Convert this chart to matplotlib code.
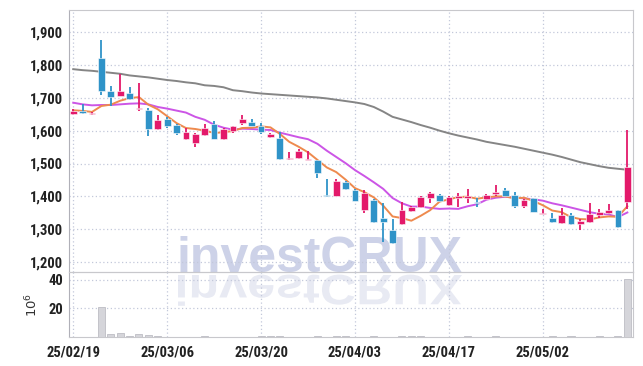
"""
Graphique chandelier + volume (style investCRUX)
"""

import matplotlib
matplotlib.use("Agg")
import matplotlib.pyplot as plt
from matplotlib.textpath import TextPath
from matplotlib.patches import PathPatch
from matplotlib.font_manager import FontProperties
from matplotlib.transforms import Affine2D, IdentityTransform
import numpy as np

# donnees
opens = [1652,1661,1650,1820,1720,1706,1715,1665,1663,1605,1635,1617,1574,1561,1587,1620,1576,1600,1622,1626,
         1615,1580,1577,1513,1516,1512,1510,1405,1402,1444,1419,1360,1389,1334,1297,1315,1356,1368,1394,1404,
         1374,1395,1395,1383,1391,1407,1419,1404,1371,1394,1347,1335,1318,1343,1315,1323,1343,1348,1358,1384]
highs = [1665,1680,1657,1875,1735,1772,1733,1745,1668,1648,1642,1620,1608,1593,1620,1628,1608,1615,1647,1636,
         1622,1592,1597,1536,1543,1538,1512,1452,1452,1448,1422,1419,1392,1380,1330,1384,1372,1402,1413,1408,
         1400,1409,1424,1394,1408,1434,1427,1414,1392,1396,1363,1348,1366,1348,1330,1381,1363,1378,1360,1602]
lows = [1648,1650,1648,1708,1675,1705,1693,1660,1585,1603,1608,1588,1572,1550,1585,1574,1573,1593,1618,1613,
        1590,1578,1512,1512,1514,1511,1455,1399,1400,1418,1385,1348,1318,1262,1256,1312,1352,1366,1380,1383,
        1372,1368,1380,1368,1389,1401,1400,1366,1365,1352,1345,1320,1316,1313,1297,1320,1333,1345,1305,1363]
closes = [1661,1655,1655,1720,1703,1720,1697,1670,1605,1632,1614,1593,1596,1590,1608,1576,1605,1614,1635,1615,
          1596,1589,1513,1517,1538,1515,1470,1400,1447,1421,1387,1409,1322,1321,1257,1360,1368,1397,1409,1385,
          1397,1402,1400,1380,1404,1413,1402,1372,1389,1353,1350,1323,1343,1315,1325,1345,1353,1358,1307,1488]
volumes = [0.3,0.2,0.1,21.1,1.8,3.0,0.7,2.3,1.1,0.5,0.3,0.2,0.3,0.1,0.4,0.3,0.3,0.3,0.2,0.3,
           0.4,0.6,0.4,0.3,0.3,0.2,0.4,0.2,0.8,0.4,0.3,0.3,0.5,0.3,0.3,1.0,0.6,0.4,0.3,0.3,
           0.3,0.3,0.4,0.3,0.2,0.4,0.3,0.3,0.2,0.3,0.2,0.4,0.3,0.5,0.2,0.3,0.4,0.3,0.5,41.0]
ma5 = [1662,1660,1657,1675,1679,1691,1699,1702,1679,1665,1644,1623,1608,1605,1600,1593,1595,1599,1608,1609,
       1613,1610,1590,1566,1551,1534,1511,1488,1474,1451,1425,1413,1397,1372,1339,1334,1326,1341,1358,1384,
       1391,1398,1399,1393,1397,1400,1400,1394,1396,1386,1373,1357,1352,1337,1331,1330,1336,1339,1338,1370]
ma10 = [1685,1680,1677,1678,1678,1680,1682,1683,1680,1672,1667,1661,1655,1642,1633,1618,1609,1603,1606,1605,
        1603,1602,1594,1587,1580,1574,1560,1539,1520,1501,1480,1462,1443,1423,1395,1379,1369,1369,1365,1362,
        1363,1362,1370,1376,1390,1396,1399,1396,1394,1391,1387,1379,1373,1366,1359,1352,1347,1345,1337,1351]
ma60 = [1787,1784,1782,1779,1776,1773,1768,1765,1762,1758,1754,1751,1747,1744,1738,1736,1732,1723,1720,1716,
        1713,1711,1709,1707,1705,1703,1701,1698,1694,1690,1686,1681,1672,1658,1642,1634,1626,1617,1609,1600,
        1592,1585,1579,1573,1566,1561,1556,1551,1545,1539,1533,1527,1520,1512,1504,1498,1492,1487,1484,1481]
date_labels = ['25/02/19', '25/03/06', '25/03/20', '25/04/03', '25/04/17', '25/05/02']
date_pos = [0, 10, 20, 30, 40, 50]
price_ticks = [1200, 1300, 1400, 1500, 1600, 1700, 1800, 1900]

up_col = '#e3196a'
down_col = '#2f93c8'
grid_col = '#c3c8da'
tick_font = ['Roboto Condensed', 'DejaVu Sans Condensed', 'Liberation Sans Narrow', 'Roboto']

x = np.arange(len(closes))

fig = plt.figure(figsize=(6.43, 3.66), dpi=100)
ax = fig.add_axes([69/643, 94/366, 564/643, 262/366])
axv = fig.add_axes([69/643, 29/366, 564/643, 65/366], sharex=ax)
for a in (ax, axv):
    a.set_facecolor('none')

#filigrane investCRUX + reflet
fig.text(177/643, 94/366, "investCRUX", fontsize=36, fontweight='bold', color='#cdd2e8',
         family=['Liberation Sans', 'DejaVu Sans'], ha='left', va='baseline', zorder=-1)
fp = FontProperties(family=['Liberation Sans', 'DejaVu Sans'], weight='bold')
tp = TextPath((0, 0), "investCRUX", size=50, prop=fp)
ext = tp.get_extents()
sx = 284 / ext.width
tr2 = Affine2D().translate(-ext.x0, 0).scale(sx, -0.85).translate(178, 366 - 275)
fig.add_artist(PathPatch(tr2.transform_path(tp), facecolor='#e8eaf3', edgecolor='none',
                         transform=IdentityTransform(), zorder=-1))

#moyennes mobiles
ax.plot(x, ma60, color='#858585', lw=1.4, zorder=3)
ax.plot(x, ma10, color='#cc55e6', lw=1.4, zorder=3)
ax.plot(x, ma5, color='#ee8a4e', lw=1.4, zorder=3)

#chandeliers
for i in range(len(closes)):
    c = up_col if closes[i] >= opens[i] else down_col
    ax.vlines(x[i], lows[i], highs[i], color=c, lw=1.3, zorder=4)
    lo = min(opens[i], closes[i])
    h = max(abs(closes[i] - opens[i]), 3)
    ax.bar(x[i], h, bottom=lo, width=0.72, color=c, edgecolor='white', linewidth=0.4, zorder=5)

#volume
axv.bar(x, volumes, width=0.75, color='#d5d5da', edgecolor='#bdbdc4', linewidth=0.6, zorder=3)

ax.set_xlim(-0.45, 59.6)
ax.set_ylim(1170, 1967)
axv.set_ylim(0, 45.6)

ax.set_yticks(price_ticks)
ax.set_yticklabels(['{:,}'.format(v) for v in price_ticks])
axv.set_yticks([20, 40])
axv.set_xticks(date_pos)
axv.set_xticklabels(date_labels)
ax.tick_params(axis='x', which='both', length=0, labelbottom=False)
ax.tick_params(axis='y', length=0, pad=4)
axv.tick_params(axis='y', length=0, pad=4)
axv.tick_params(axis='x', length=0, pad=6)
for a in (ax, axv):
    for lab in a.get_xticklabels() + a.get_yticklabels():
        lab.set_family(tick_font)
        lab.set_fontsize(10.5)
        lab.set_fontweight('bold')
        lab.set_color('#222222')
    a.grid(True, color=grid_col, linestyle=(0, (1, 2)), lw=0.9, zorder=0)
    for s in a.spines.values():
        s.set_color('#c8c8cc')
    a.spines['left'].set_color('#b0b0b8')

axv.text(-0.066, 0.5, '$10^6$', transform=axv.transAxes, rotation=90, ha='center', va='center',
         fontsize=9.5, color='#333333')

fig.savefig('out.png', dpi=100, facecolor='white')
